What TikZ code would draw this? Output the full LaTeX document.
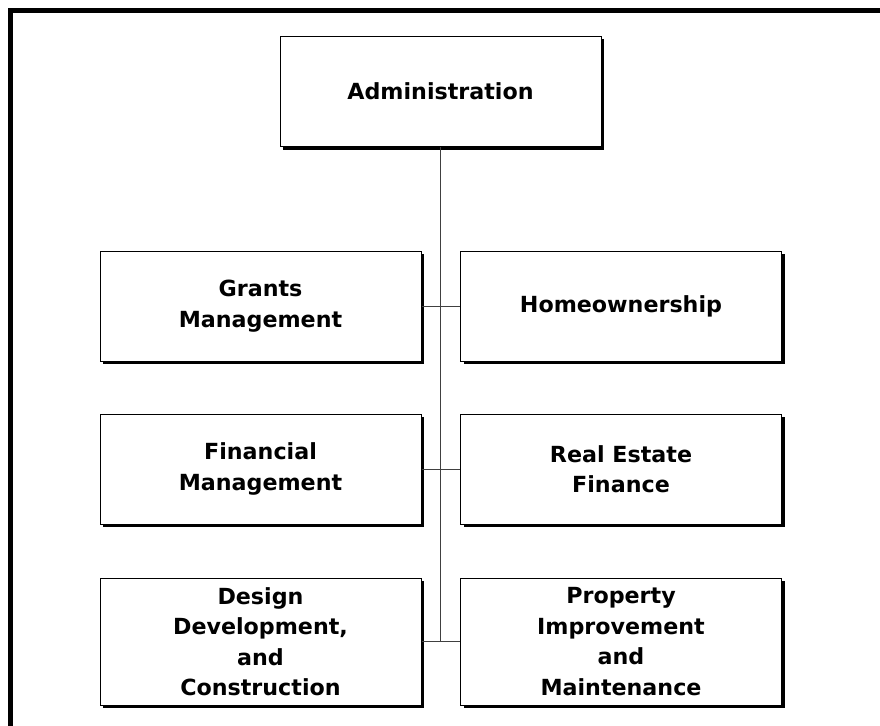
\documentclass[tikz,border=0pt]{standalone}
\usepackage{fontspec}
\setmainfont{DejaVu Sans}
\usetikzlibrary{shadows}

\tikzset{
  unit/.style={draw=black, line width=1pt, fill=white, align=center,
    minimum width=321pt, minimum height=110pt, inner sep=0pt,
    font=\fontsize{22.2}{30.5}\selectfont\bfseries,
    drop shadow={shadow xshift=3pt, shadow yshift=-3pt, fill=black, opacity=1}},
  link/.style={draw=black!75, line width=1pt}
}

\begin{document}
\begin{tikzpicture}[x=1pt,y=-1pt]
\useasboundingbox (0,0) rectangle (880,725);
\draw[line width=4.5pt] (10.5,730) -- (10.5,10.3) -- (885,10.3);

\node[unit] (adm) at (440.5,91.5) {Administration};

\node[unit] (l1) at (260.5,306) {Grants\\Management};
\node[unit] (r1) at (621,306) {Homeownership};
\node[unit] (l2) at (260.5,469) {Financial\\Management};
\node[unit] (r2) at (621,469) {Real Estate\\Finance};
\node[unit,minimum height=127pt] (l3) at (260.5,641.5) {Design\\Development,\\and\\Construction};
\node[unit,minimum height=127pt] (r3) at (621,641.5) {Property\\Improvement\\and\\Maintenance};

\draw[link] (adm.south) -- (adm.south |- l3.east);
\draw[link] (l1) -- (r1);
\draw[link] (l2) -- (r2);
\draw[link] (l3) -- (r3);

\end{tikzpicture}
\end{document}
